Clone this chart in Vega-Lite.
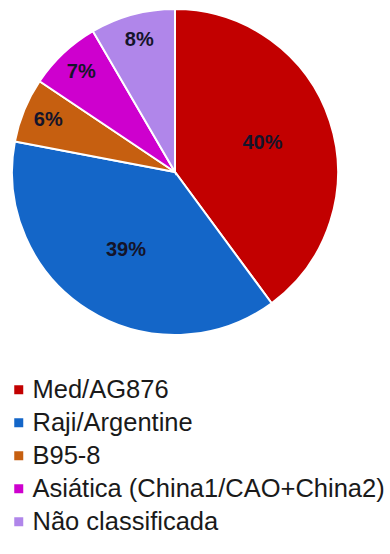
{
  "$schema": "https://vega.github.io/schema/vega-lite/v6.json",
  "width": 350,
  "height": 344,
  "padding": 0,
  "autosize": {"type": "pad"},
  "background": "white",
  "view": {"stroke": null},
  "data": {"values": [
    {"genotipo": "Med/AG876", "ordem": 1, "valor": 39.9, "rotulo": "40%"},
    {"genotipo": "Raji/Argentine", "ordem": 2, "valor": 38.1, "rotulo": "39%"},
    {"genotipo": "B95-8", "ordem": 3, "valor": 6.4, "rotulo": "6%"},
    {"genotipo": "Asiática (China1/CAO+China2)", "ordem": 4, "valor": 7.2, "rotulo": "7%"},
    {"genotipo": "Não classificada", "ordem": 5, "valor": 8.4, "rotulo": "8%"}
  ]},
  "encoding": {
    "theta": {"field": "valor", "type": "quantitative", "stack": true},
    "order": {"field": "ordem", "type": "quantitative", "sort": "ascending"},
    "color": {
      "field": "genotipo",
      "type": "nominal",
      "sort": ["Med/AG876", "Raji/Argentine", "B95-8", "Asiática (China1/CAO+China2)", "Não classificada"],
      "scale": {
        "domain": ["Med/AG876", "Raji/Argentine", "B95-8", "Asiática (China1/CAO+China2)", "Não classificada"],
        "range": ["#C20000", "#1466C8", "#C65F10", "#CE00CE", "#B086EA"]
      },
      "legend": {
        "orient": "none",
        "legendX": 6,
        "legendY": 377,
        "title": null,
        "symbolType": "square",
        "symbolSize": 81,
        "symbolStrokeWidth": 0,
        "labelFont": "Liberation Sans",
        "labelFontSize": 25.5,
        "labelColor": "#1a1a1a",
        "labelOffset": 1,
        "labelLimit": 400,
        "rowPadding": 6,
        "padding": 0
      }
    }
  },
  "layer": [
    {"mark": {"type": "arc", "outerRadius": 163, "stroke": "white", "strokeWidth": 2}},
    {
      "mark": {"type": "text", "radius": 92, "font": "Liberation Sans", "fontWeight": "bold", "fontSize": 20, "baseline": "middle", "align": "center"},
      "encoding": {
        "text": {"condition": {"test": "datum.valor > 20", "field": "rotulo"}, "value": ""},
        "color": {"value": "#14142a"}
      }
    },
    {
      "mark": {"type": "text", "radius": 137, "font": "Liberation Sans", "fontWeight": "bold", "fontSize": 20, "baseline": "middle", "align": "center"},
      "encoding": {
        "text": {"condition": {"test": "datum.valor <= 20", "field": "rotulo"}, "value": ""},
        "color": {"value": "#14142a"}
      }
    }
  ]
}
